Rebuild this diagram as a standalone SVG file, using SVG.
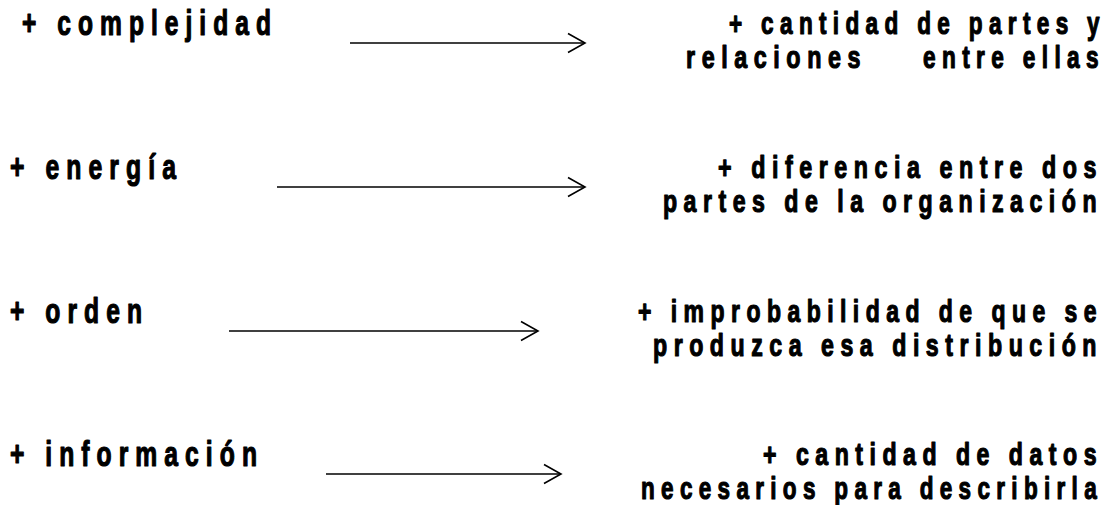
<svg xmlns="http://www.w3.org/2000/svg" width="1119" height="505" viewBox="0 0 1119 505">
<style>
.t{font-family:"Liberation Sans",Arial,sans-serif;font-weight:bold;fill:#000;stroke:#000;stroke-width:1.2;stroke-linejoin:round;}
.l{font-size:35px;letter-spacing:10px;}
.r{font-size:32px;letter-spacing:9px;}
.c{stroke:#000;stroke-width:1.6;fill:none;}
</style>
<defs>
<marker id="ah" viewBox="-19 -11 21 22" refX="0" refY="0" markerWidth="21" markerHeight="22" markerUnits="userSpaceOnUse" orient="auto">
<path d="M-17,-9.5 L0,0 L-17,9.5" fill="none" stroke="#000" stroke-width="1.6"/>
</marker>
</defs>
<rect width="1119" height="505" fill="#fff"/>
<g id="connectors">
<line class="c" x1="350" y1="43" x2="585" y2="43" marker-end="url(#ah)"/>
<line class="c" x1="277" y1="187" x2="585" y2="187" marker-end="url(#ah)"/>
<line class="c" x1="229" y1="331" x2="538" y2="331" marker-end="url(#ah)"/>
<line class="c" x1="326" y1="474" x2="561" y2="474" marker-end="url(#ah)"/>
</g>
<g id="complejidad"><text class="t l" x="22" y="35" textLength="256" lengthAdjust="spacingAndGlyphs">+ complejidad</text></g>
<g id="energia"><text class="t l" x="10" y="179" textLength="173" lengthAdjust="spacingAndGlyphs">+ energía</text></g>
<g id="orden"><text class="t l" x="10" y="323" textLength="139" lengthAdjust="spacingAndGlyphs">+ orden</text></g>
<g id="informacion"><text class="t l" x="10" y="466" textLength="254" lengthAdjust="spacingAndGlyphs">+ información</text></g>
<g id="partes">
<text class="t r" x="729" y="34" textLength="377" lengthAdjust="spacingAndGlyphs">+ cantidad de partes y</text>
<text class="t r" x="686" y="68" textLength="181" lengthAdjust="spacingAndGlyphs">relaciones</text>
<text class="t r" x="923" y="68" textLength="182" lengthAdjust="spacingAndGlyphs">entre ellas</text>
</g>
<g id="diferencia">
<text class="t r" x="718" y="178" textLength="385" lengthAdjust="spacingAndGlyphs">+ diferencia entre dos</text>
<text class="t r" x="663" y="212" textLength="440" lengthAdjust="spacingAndGlyphs">partes de la organización</text>
</g>
<g id="improbabilidad">
<text class="t r" x="638" y="322" textLength="465" lengthAdjust="spacingAndGlyphs">+ improbabilidad de que se</text>
<text class="t r" x="653" y="356" textLength="450" lengthAdjust="spacingAndGlyphs">produzca esa distribución</text>
</g>
<g id="datos">
<text class="t r" x="763" y="465" textLength="340" lengthAdjust="spacingAndGlyphs">+ cantidad de datos</text>
<text class="t r" x="641" y="499" textLength="462" lengthAdjust="spacingAndGlyphs">necesarios para describirla</text>
</g>
</svg>
